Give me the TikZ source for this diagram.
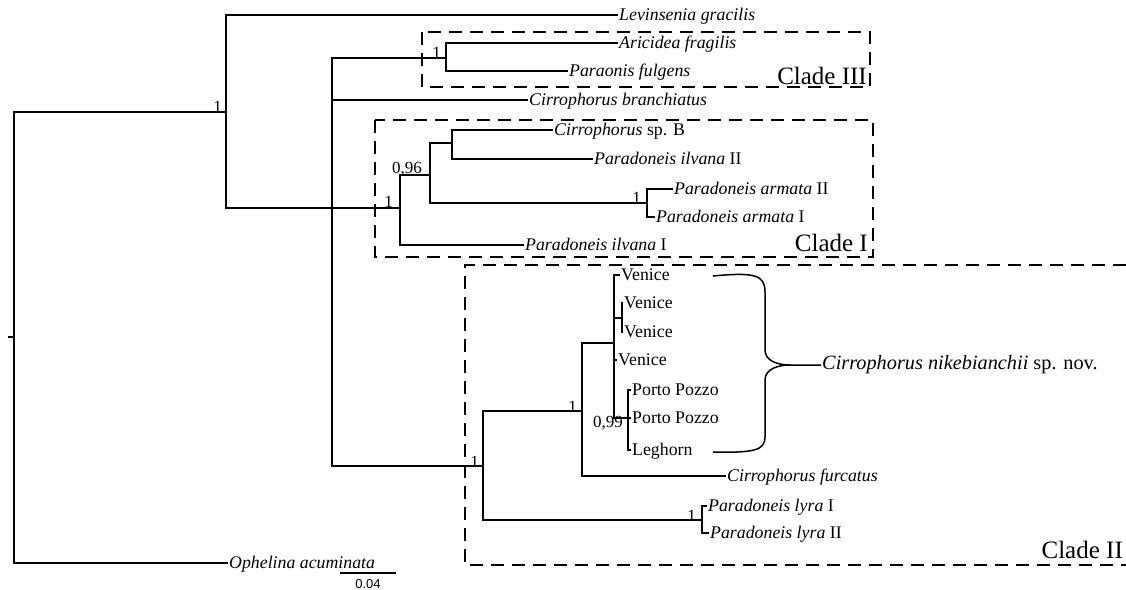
\documentclass[tikz,border=0pt]{standalone}
\usepackage{fontspec}
\setmainfont{Liberation Serif}
\newfontfamily\sansf{Liberation Sans}
\begin{document}
\begin{tikzpicture}[x=1pt,y=-1pt,
  br/.style={line width=1.5pt, line join=miter},
  tip/.style={anchor=west, inner sep=1pt, font=\fontsize{17.8}{19}\selectfont, text height=12pt, text depth=2pt},
  sup/.style={font=\fontsize{17}{18}\selectfont, inner sep=1pt},
  clade/.style={font=\fontsize{25}{28}\selectfont, anchor=base east, inner sep=0pt},
  cbox/.style={line width=2.2pt, dash pattern=on 13pt off 8pt}]
\useasboundingbox (0,0) rectangle (1126,589);
% internal nodes
\coordinate (r0) at (8,337);
\coordinate (r) at (14,337);
\coordinate (nA) at (226,112);
\coordinate (nB) at (332,208);
\coordinate (nC3) at (446,58);
\coordinate (nC1) at (400,208);
\coordinate (nD) at (430,175);
\coordinate (nE) at (452,143);
\coordinate (nF) at (647,203);
\coordinate (nG) at (483,466);
\coordinate (nH) at (582,411);
\coordinate (nV) at (614,343);
\coordinate (nV2) at (622,318);
\coordinate (nP) at (628,418);
\coordinate (nL) at (702,520);
% tips
\node[tip] (lev) at (618,15) {\textit{Levinsenia gracilis}};
\node[tip] (ari) at (618,43) {\textit{Aricidea fragilis}};
\node[tip] (par) at (568,71) {\textit{Paraonis fulgens}};
\node[tip] (bra) at (528,100) {\textit{Cirrophorus branchiatus}};
\node[tip] (spB) at (553,130) {\textit{Cirrophorus} sp. B};
\node[tip] (ilvII) at (593,159) {\textit{Paradoneis ilvana} II};
\node[tip] (armII) at (673,189) {\textit{Paradoneis armata} II};
\node[tip] (armI) at (655,217) {\textit{Paradoneis armata} I};
\node[tip] (ilvI) at (524,245) {\textit{Paradoneis ilvana} I};
\node[tip] (ven1) at (620,275) {Venice};
\node[tip] (ven2) at (623,303) {Venice};
\node[tip] (ven3) at (623,332) {Venice};
\node[tip] (ven4) at (617,360) {Venice};
\node[tip] (pp1) at (631,390) {Porto Pozzo};
\node[tip] (pp2) at (631,418) {Porto Pozzo};
\node[tip] (leg) at (631,450) {Leghorn};
\node[tip] (fur) at (726,476) {\textit{Cirrophorus furcatus}};
\node[tip] (lyr1) at (707,506) {\textit{Paradoneis lyra} I};
\node[tip] (lyr2) at (709,533) {\textit{Paradoneis lyra} II};
\node[tip] (oph) at (228,563) {\textit{Ophelina acuminata}};
% branches
\draw[br] (r0) -- (r);
\draw[br] (r) |- (nA);
\draw[br] (r) |- (oph.west);
\draw[br] (nA) |- (lev.west);
\draw[br] (nA) |- (nB);
\draw[br] (nB) |- (nC3);
\draw[br] (nB) |- (bra.west);
\draw[br] (nB) |- (nC1);
\draw[br] (nB) |- (nG);
\draw[br] (nC3) |- (ari.west);
\draw[br] (nC3) |- (par.west);
\draw[br] (nC1) |- (nD);
\draw[br] (nC1) |- (ilvI.west);
\draw[br] (nD) |- (nE);
\draw[br] (nD) |- (nF);
\draw[br] (nE) |- (spB.west);
\draw[br] (nE) |- (ilvII.west);
\draw[br] (nF) |- (armII.west);
\draw[br] (nF) |- (armI.west);
\draw[br] (nG) |- (nH);
\draw[br] (nG) |- (nL);
\draw[br] (nH) |- (nV);
\draw[br] (nH) |- (fur.west);
\draw[br] (nV) |- (ven1.west);
\draw[br] (nV) |- (nV2);
\draw[br] (nV) |- (ven4.west);
\draw[br] (nV) |- (nP);
\draw[br] (nV2) |- (ven2.west);
\draw[br] (nV2) |- (ven3.west);
\draw[br] (nP) |- (pp1.west);
\draw[br] (nP) |- (pp2.west);
\draw[br] (nP) |- (leg.west);
\draw[br] (nL) |- (lyr1.west);
\draw[br] (nL) |- (lyr2.west);
% support values
\node[sup, anchor=south east] (sA) at ([xshift=-3pt,yshift=-2pt]nA) {1};
\node[sup, anchor=south east] (sC3) at ([xshift=-4pt,yshift=-2pt]nC3) {1};
\node[sup, anchor=south east] (sC1) at ([xshift=-6pt,yshift=-1pt]nC1) {1};
\node[sup, anchor=south east] (sD) at ([xshift=-7pt,yshift=-2pt]nD) {0,96};
\node[sup, anchor=south east] (sF) at ([xshift=-5pt,yshift=-2pt]nF) {1};
\node[sup, anchor=south east] (sG) at ([xshift=-3pt,yshift=-3pt]nG) {1};
\node[sup, anchor=south east] (sH) at ([xshift=-4pt,yshift=-3pt]nH) {1};
\node[sup, anchor=north east] (sP) at ([xshift=-4pt,yshift=3pt]nP) {0,99};
\node[sup, anchor=south east] (sL) at ([xshift=-5pt,yshift=-3pt]nL) {1};
% clade boxes
\draw[cbox] (422,32) rectangle (870,87);
\draw[cbox] (375,120) rectangle (873,257);
\draw[cbox] (1126,265) -- (465,265) -- (465,565) -- (1126,565);
\node[clade] (cl3) at (867,84) {Clade III};
\node[clade] (cl1) at (868,251) {Clade I};
\node[clade] (cl2) at (1123,558) {Clade II};
% brace
\node[anchor=west, inner sep=1pt, font=\fontsize{20.3}{22}\selectfont] (nik) at (821,365) {\textit{Cirrophorus nikebianchii} sp. nov.};
\coordinate (bt) at (713,276);
\coordinate (bb) at (713,452);
\coordinate (bm) at (790,365);
\draw[br] (bt) .. controls (755,272) and (765,275) .. (765,292) -- (765,350)
  .. controls (765,361) and (778,365) .. (bm) -- (nik.west);
\draw[br] (bm) .. controls (778,365) and (765,369) .. (765,380) -- (765,437)
  .. controls (765,450) and (755,453) .. (bb);
% scale bar
\coordinate (sbl) at (340,573);
\coordinate (sbr) at (396,573);
\draw[line width=1.3pt] (sbl) -- (sbr);
\node[inner sep=0pt, anchor=base, font=\sansf\fontsize{13}{15}\selectfont] (sbt) at (368,588) {0.04};
\end{tikzpicture}
\end{document}
